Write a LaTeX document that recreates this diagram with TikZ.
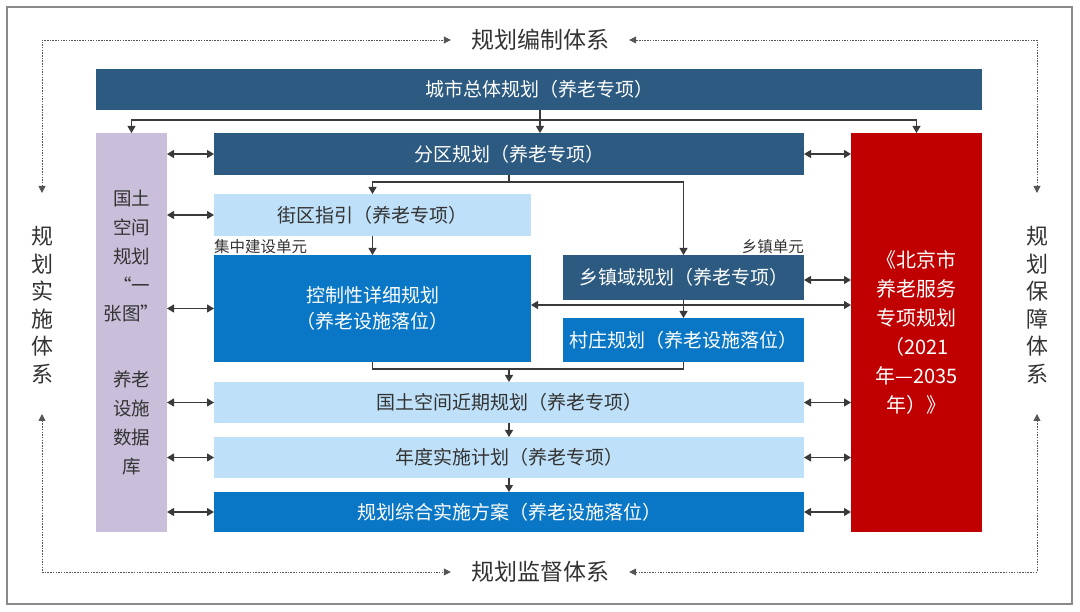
\documentclass[tikz,border=0pt]{standalone}
\usepackage{fontspec}
\setmainfont{Noto Sans CJK SC}
\usetikzlibrary{arrows.meta}
\definecolor{dkblue}{HTML}{2C5A80}
\definecolor{mdblue}{HTML}{0A77C6}
\definecolor{ltblue}{HTML}{BEE0F8}
\definecolor{lilac}{HTML}{C9BFDA}
\definecolor{redbox}{HTML}{C00000}
\definecolor{txtgray}{HTML}{333333}
\definecolor{linegray}{HTML}{3A3A3A}
\definecolor{framegray}{HTML}{8A8A8A}
\definecolor{dotgray}{HTML}{555555}
\begin{document}
\begin{tikzpicture}[x=1pt,y=-1pt,
  >={Triangle[length=7pt,width=8pt]},
  box/.style={inner sep=0pt, outer sep=0pt, text=white, align=center,
    font=\fontsize{19}{26}\selectfont},
  dark/.style={box, fill=dkblue},
  mid/.style={box, fill=mdblue},
  light/.style={box, fill=ltblue, text=txtgray},
  conn/.style={draw=linegray, line width=1.1pt},
  dotline/.style={draw=dotgray, line width=0.8pt, dash pattern=on 1.5pt off 1.2pt,
    >={Triangle[length=7pt,width=7pt]}},
  sidetext/.style={text=txtgray, align=center, inner sep=0pt,
    font=\fontsize{22}{27.5}\selectfont},
  titletext/.style={text=txtgray, inner xsep=20pt, inner ysep=2pt,
    font=\fontsize{23}{28}\selectfont},
  smalllabel/.style={text=txtgray, inner sep=0pt, font=\fontsize{15.5}{18}\selectfont}
]
\useasboundingbox (0,0) rectangle (1080,612);
\draw[framegray, line width=1.5pt] (7,7) rectangle (1072,604);

% boxes
\node[dark, minimum width=886pt, minimum height=41pt] (city) at (539,89.5) {城市总体规划（养老专项）};
\node[box, fill=lilac, text=txtgray, minimum width=71pt, minimum height=399pt,
  font=\fontsize{18.5}{28.8}\selectfont] (lilac) at (131.5,332.5)
  {国土\\空间\\规划\\“一\\张图”\\[37pt]养老\\设施\\数据\\库};
\node[dark, minimum width=590pt, minimum height=42pt] (fenqu) at (509,154) {分区规划（养老专项）};
\node[box, fill=redbox, minimum width=131pt, minimum height=399pt,
  font=\fontsize{20}{29}\selectfont] (red) at (916.5,332.5)
  {《北京市\\养老服务\\专项规划\\（2021\\年—2035\\年）》};
\node[light, minimum width=317pt, minimum height=42pt] (jiequ) at (372.5,215) {街区指引（养老专项）};
\node[mid, minimum width=317pt, minimum height=107pt] (kongui) at (372.5,308.5) {控制性详细规划\\（养老设施落位）};
\node[dark, minimum width=241pt, minimum height=45pt] (xiangzhen) at (683.5,277.5) {乡镇域规划（养老专项）};
\node[mid, minimum width=241pt, minimum height=44pt] (cunzhuang) at (683.5,340) {村庄规划（养老设施落位）};
\node[light, minimum width=590pt, minimum height=41pt] (jinqi) at (509,402.5) {国土空间近期规划（养老专项）};
\node[light, minimum width=590pt, minimum height=41pt] (niandu) at (509,457.5) {年度实施计划（养老专项）};
\node[mid, minimum width=590pt, minimum height=40pt] (zonghe) at (509,512) {规划综合实施方案（养老设施落位）};

% small labels
\node[smalllabel, anchor=west] (jzlabel) at (214,246.5) {集中建设单元};
\node[smalllabel, anchor=east] (xzlabel) at (804,246.5) {乡镇单元};

% frame titles
\node[titletext] (bianzhi) at (540,40) {规划编制体系};
\node[titletext] (jiandu) at (540,572) {规划监督体系};
\node[sidetext] (shishi) at (42,305) {规\\划\\实\\施\\体\\系};
\node[sidetext] (baozhang) at (1037,305) {规\\划\\保\\障\\体\\系};

\coordinate (dl1) at (42,193);
\coordinate (dr1) at (1037,193);
\coordinate (dl2) at (42,414);
\coordinate (dr2) at (1037,414);
\draw[dotline,<->] (dl1) |- (bianzhi.west);
\draw[dotline,<->] (dr1) |- (bianzhi.east);
\draw[dotline,<->] (dl2) |- (jiandu.west);
\draw[dotline,<->] (dr2) |- (jiandu.east);

% connectors from city plan
\coordinate (c1) at (540,120);
\draw[conn,->] (city.south -| c1) -- (fenqu.north -| c1);
\draw[conn,->] (c1) -| (lilac.north);
\draw[conn,->] (c1) -| (red.north);

% from district plan
\coordinate (c2) at (509,182);
\draw[conn] (fenqu.south -| c2) -- (c2);
\draw[conn,->] (c2) -| (jiequ.north);
\draw[conn,->] (c2) -| (xiangzhen.north);
\draw[conn,->] (jiequ) -- (kongui);
\draw[conn,->] (xiangzhen) -- (cunzhuang);

% merge to near-term plan
\coordinate (c3) at (509,369);
\draw[conn] (kongui.south) |- (cunzhuang.south |- c3) -- (cunzhuang.south);
\draw[conn,->] (c3) -- (jinqi.north -| c3);
\draw[conn,->] (jinqi.south -| c3) -- (niandu.north -| c3);
\draw[conn,->] (niandu.south -| c3) -- (zonghe.north -| c3);

% lilac links
\draw[conn,<->] (lilac.east |- fenqu) -- (fenqu.west);
\draw[conn,<->] (lilac.east |- jiequ) -- (jiequ.west);
\draw[conn,<->] (lilac.east |- kongui) -- (kongui.west);
\draw[conn,<->] (lilac.east |- jinqi) -- (jinqi.west);
\draw[conn,<->] (lilac.east |- niandu) -- (niandu.west);
\draw[conn,<->] (lilac.east |- zonghe) -- (zonghe.west);

% red links
\draw[conn,<->] (fenqu.east) -- (red.west |- fenqu);
\draw[conn,<->] ([yshift=-2.5pt]xiangzhen.east) -- (red.west |- 0,280);
\draw[conn,<->] ([yshift=3.5pt]kongui.east) -- (red.west |- 0,305);
\draw[conn,<->] (jinqi.east) -- (red.west |- jinqi);
\draw[conn,<->] (niandu.east) -- (red.west |- niandu);
\draw[conn,<->] (zonghe.east) -- (red.west |- zonghe);
\end{tikzpicture}
\end{document}
